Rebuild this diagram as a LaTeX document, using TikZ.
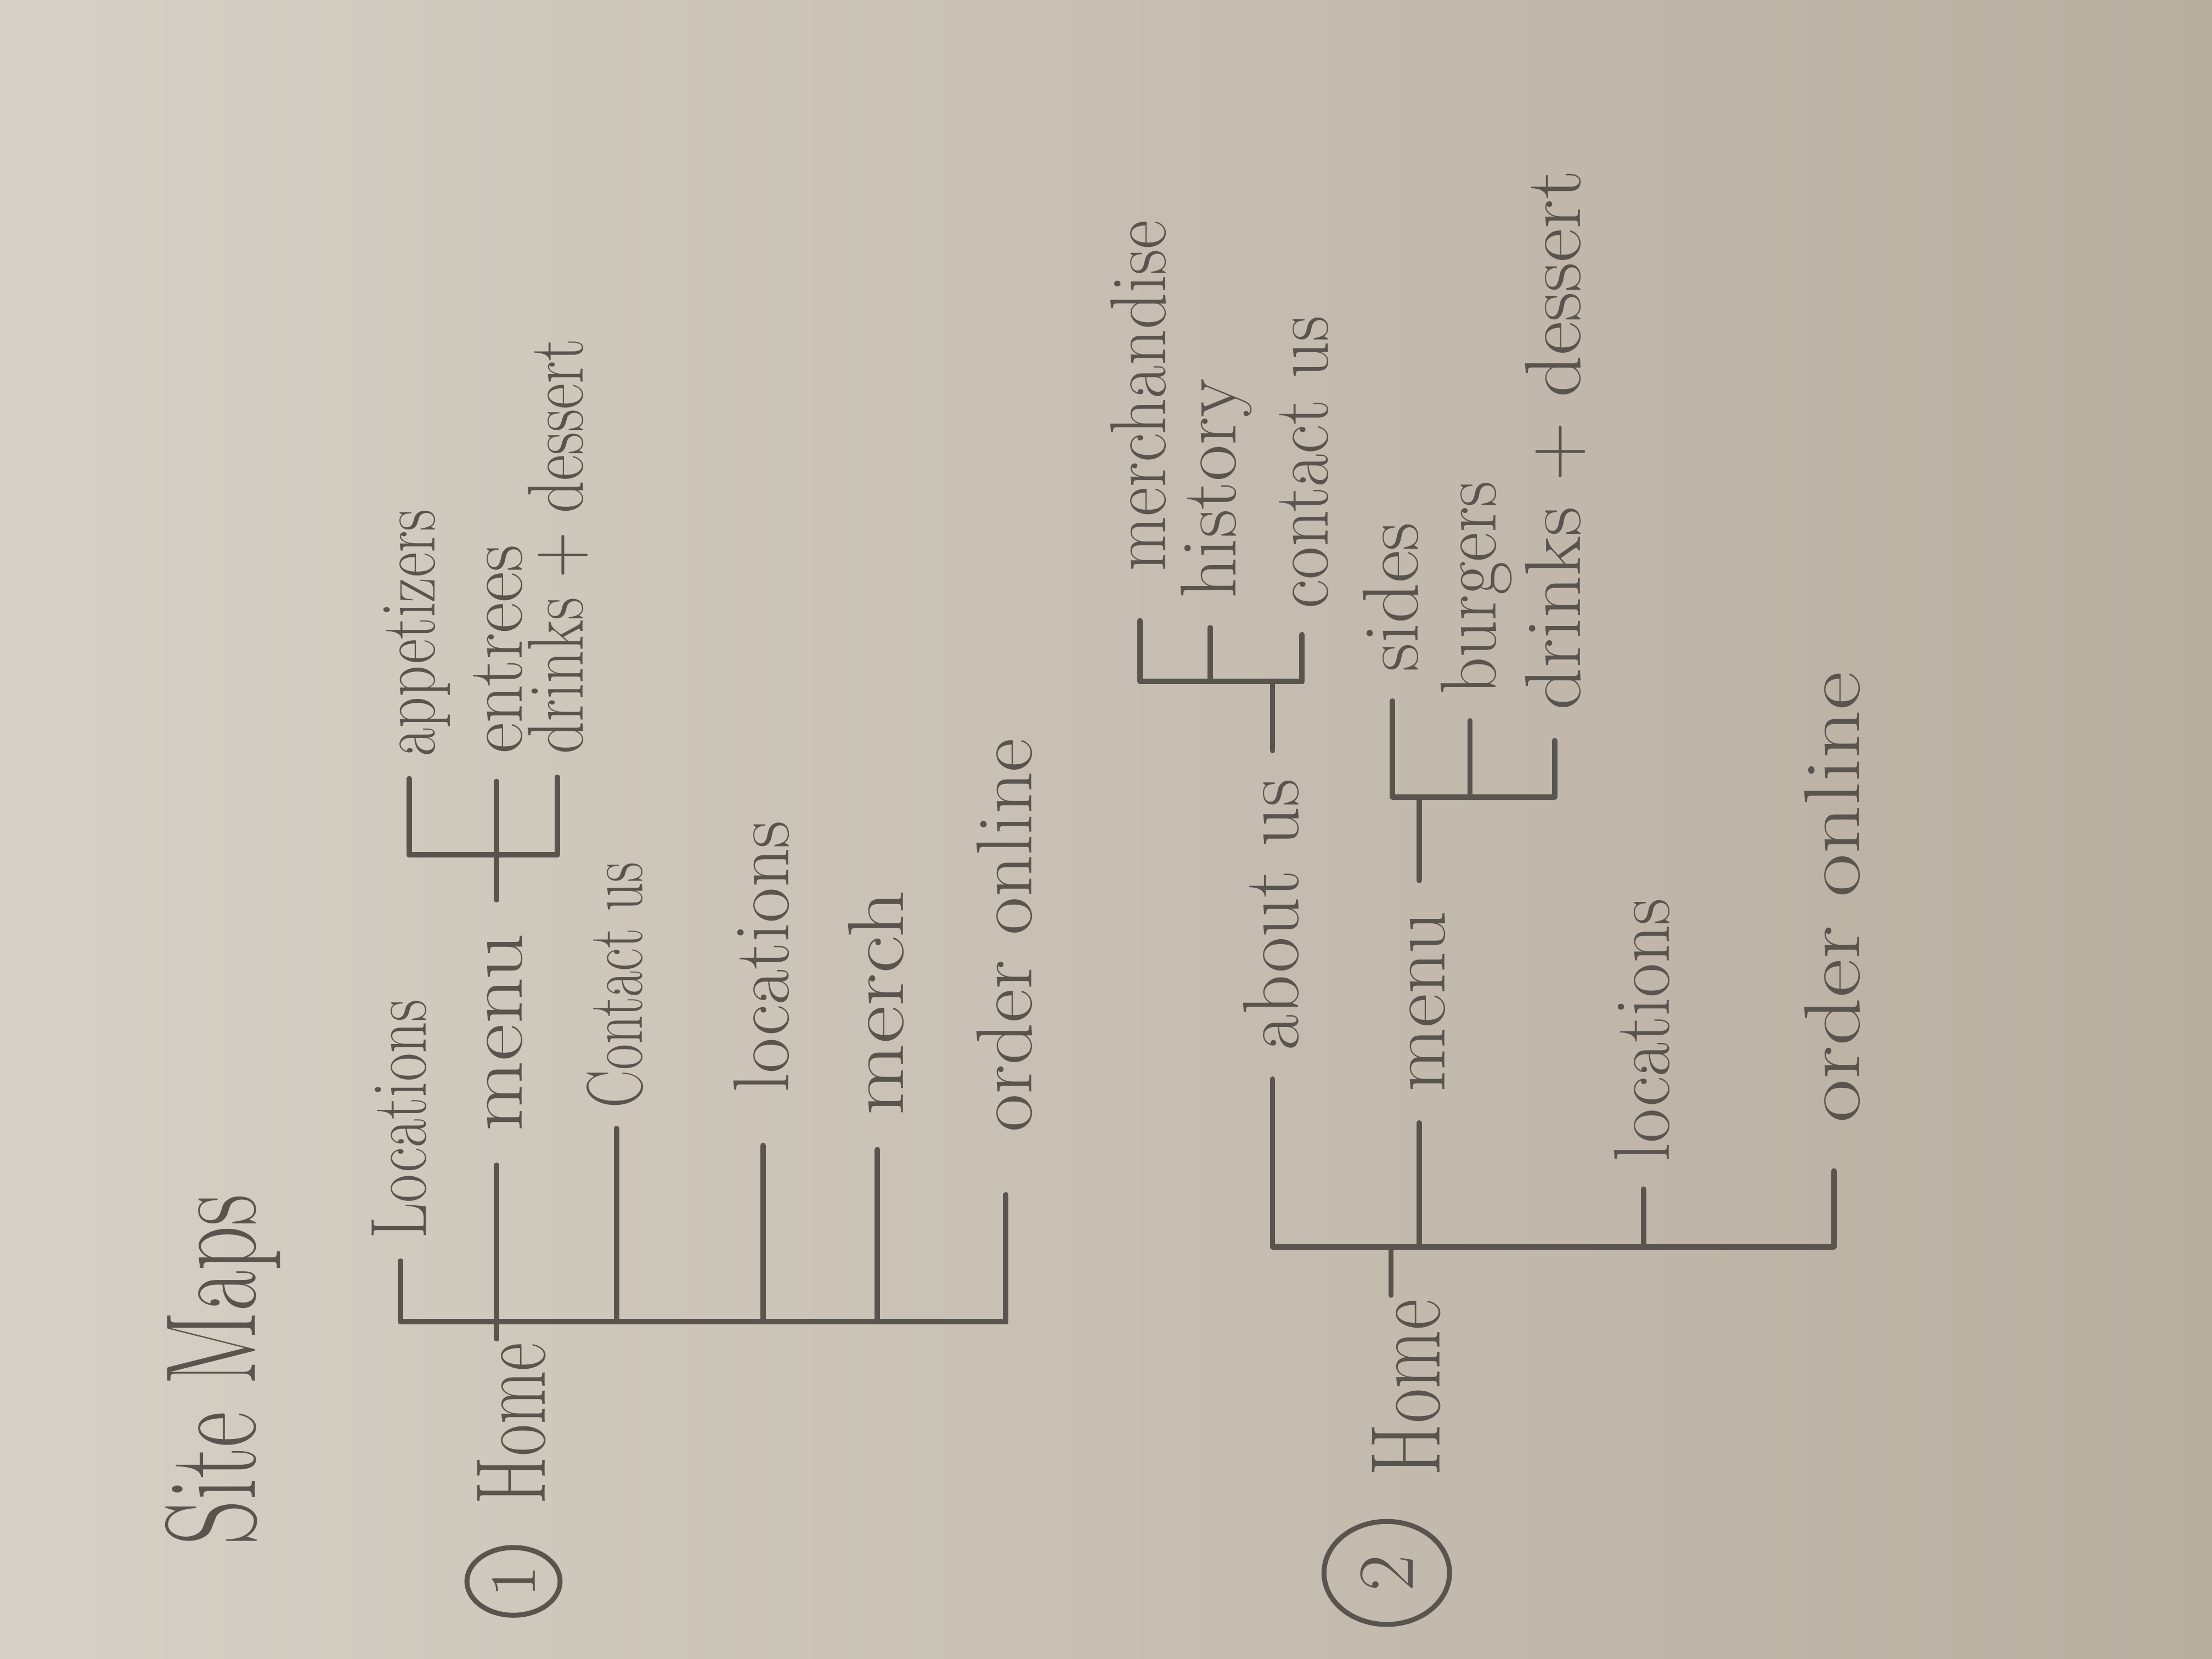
\documentclass[tikz,border=0pt]{standalone}
\usepackage{xcolor}
\usepackage{tikz}
\usetikzlibrary{shapes.geometric}

\definecolor{pencil}{HTML}{59544E}
\definecolor{paperL}{HTML}{D6D0C6}
\definecolor{paperR}{HTML}{B8AEA0}

\begin{document}
\begin{tikzpicture}[
lbl/.style={rotate=90,anchor=west,text=pencil,font=\fontsize{16}{18}\selectfont,inner xsep=0.2cm,inner ysep=0pt,text height=10.3pt,text depth=0pt},
home/.style={rotate=90,anchor=north east,text=pencil,font=\fontsize{20}{24}\selectfont,xscale=0.7,inner sep=1pt,text height=8.6pt,text depth=0pt},
num/.style={ellipse,draw=pencil,line width=1pt,text=pencil,rotate=90,inner sep=0pt},
ln/.style={pencil,line width=1.1pt,line cap=round,line join=round}]

\fill[left color=paperL,right color=paperR] (0,0) rectangle (15.68,11.76);
\useasboundingbox (0,0) rectangle (15.68,11.76);

\node[rotate=90,text=pencil,font=\fontsize{26}{30}\selectfont,xscale=0.68] (title) at (1.58,2.05) {Site Maps};

% site map 1
\node[num,minimum width=0.48cm,minimum height=0.66cm,font=\fontsize{13}{15}\selectfont] (n1) at (3.64,0.55) {1};
\node[home] (home1) at (3.52,2.27) {Home};
\coordinate (sp1) at (2.84,2.39);
\node[lbl,xscale=0.78] (t1loc) at (2.84,2.82) {Locations};
\node[lbl,xscale=1.15] (t1menu) at (3.52,3.50) {menu};
\node[lbl,xscale=0.71] (t1contact) at (4.37,3.76) {Contact us};
\node[lbl,xscale=0.97,inner xsep=0.38cm] (t1locb) at (5.41,3.64) {locations};
\node[lbl,xscale=1.17] (t1merch) at (6.22,3.61) {merch};
\node[lbl,xscale=1.04,inner xsep=0.42cm] (t1order) at (7.13,3.29) {order online};

\coordinate (sb1) at (2.90,5.70);
\node[lbl,xscale=0.77] (t1app) at (2.90,6.24) {appetizers};
\node[lbl,xscale=0.95] (t1ent) at (3.52,6.22) {entrees};
\node[lbl,xscale=0.8] (t1drink) at (3.95,6.25) {drinks + dessert};

\draw[ln] (home1.north east) -- (home1.north east |- sp1);
\draw[ln] (t1loc.west) -- (t1loc.west |- sp1) -- (t1order.west |- sp1) -- (t1order.west);
\draw[ln] (t1menu.west) -- (t1menu.west |- sp1);
\draw[ln] (t1contact.west) -- (t1contact.west |- sp1);
\draw[ln] (t1locb.west) -- (t1locb.west |- sp1);
\draw[ln] (t1merch.west) -- (t1merch.west |- sp1);
\draw[ln] (t1app.west) -- (t1app.west |- sb1) -- (t1drink.west |- sb1) -- (t1drink.west);
\draw[ln] (t1menu.east) -- (t1ent.west);

% site map 2
\node[num,minimum width=0.73cm,minimum height=0.89cm,font=\fontsize{16}{18}\selectfont] (n2) at (9.83,0.61) {2};
\node[home,xscale=1.09] (home2) at (9.86,2.58) {Home};
\coordinate (sp2) at (9.02,2.92);
\node[lbl,xscale=0.98] (t2about) at (9.02,4.11) {about us};
\node[lbl,xscale=1.05] (t2menu) at (10.06,3.80) {menu};
\node[lbl,xscale=0.94] (t2loc) at (11.65,3.33) {locations};
\node[lbl,xscale=1.19,inner xsep=0.28cm] (t2order) at (13.00,3.46) {order online};

\coordinate (sb2a) at (8.08,6.93);
\node[lbl,xscale=0.9,inner xsep=0.38cm] (t2merchd) at (8.08,7.36) {merchandise};
\node[lbl] (t2hist) at (8.58,7.31) {history};
\node[lbl,xscale=0.9] (t2contact) at (9.23,7.26) {contact us};

\coordinate (sb2m) at (9.87,6.11);
\node[lbl] (t2sides) at (9.87,6.79) {sides};
\node[lbl,xscale=0.91] (t2burg) at (10.42,6.65) {burgers};
\node[lbl,xscale=1.04] (t2drink) at (11.02,6.51) {drinks + dessert};

\draw[ln] (home2.north east) -- (home2.north east |- sp2);
\draw[ln] (t2about.west) -- (t2about.west |- sp2) -- (t2order.west |- sp2) -- (t2order.west);
\draw[ln] (t2menu.west) -- (t2menu.west |- sp2);
\draw[ln] (t2loc.west) -- (t2loc.west |- sp2);
\draw[ln] (t2merchd.west) -- (t2merchd.west |- sb2a) -- (t2contact.west |- sb2a) -- (t2contact.west);
\draw[ln] (t2hist.west) -- (t2hist.west |- sb2a);
\draw[ln] (t2about.east) -- (t2about.east |- sb2a);
\draw[ln] (t2sides.west) -- (t2sides.west |- sb2m) -- (t2drink.west |- sb2m) -- (t2drink.west);
\draw[ln] (t2burg.west) -- (t2burg.west |- sb2m);
\draw[ln] (t2menu.east) -- (t2menu.east |- sb2m);
\end{tikzpicture}
\end{document}
